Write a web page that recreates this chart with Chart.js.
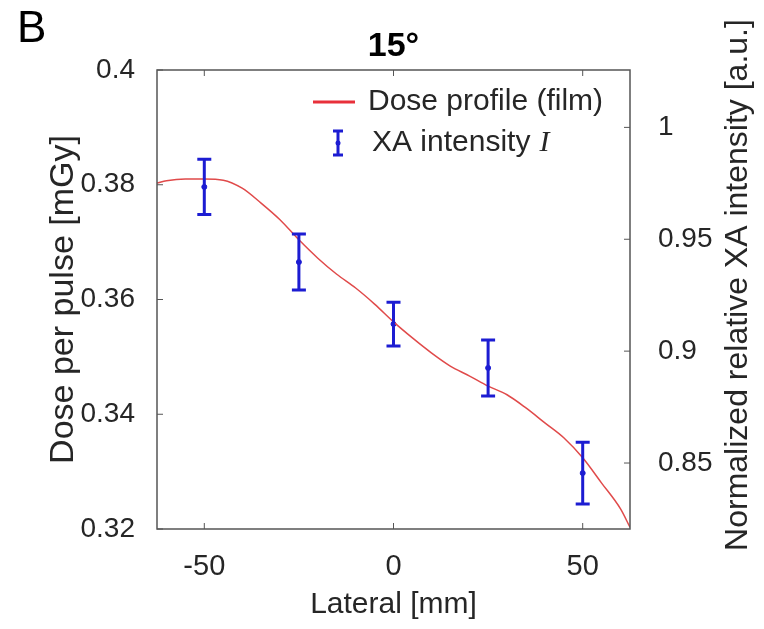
<!DOCTYPE html>
<html>
<head>
<meta charset="utf-8">
<script src="https://cdn.jsdelivr.net/npm/chart.js@4.4.1/dist/chart.umd.min.js"></script>
<style>
  html, body { margin: 0; padding: 0; background: #fff; }
</style>
</head>
<body>
<canvas id="chart" width="764" height="629"></canvas>
<script>
// film dose profile (left axis, mGy)
const lateralMm = [-62.5, -60, -55, -50, -45, -40, -35, -30, -25, -20, -15, -10, -5, 0,
                   5, 10, 15, 20, 25, 30, 35, 40, 45, 50, 55, 60, 62.5];
const doseFilm = [0.3803, 0.3807, 0.3810, 0.3810, 0.3808, 0.3794, 0.3768, 0.3739, 0.3704,
                  0.3672, 0.3644, 0.3620, 0.3592, 0.3561, 0.3533, 0.3507, 0.3484, 0.3467,
                  0.3449, 0.3434, 0.3411, 0.3385, 0.3359, 0.3324, 0.3280, 0.3235, 0.3203];

// XA intensity with error bars (right axis)
const xaLateral = [-50, -25, 0, 25, 50];
const xaIntensity = [0.9734, 0.9398, 0.9121, 0.8925, 0.8455];
const xaError = [0.0123, 0.0125, 0.0098, 0.0125, 0.0138];

const xTicks = [-50, 0, 50];
const doseTicks = [0.32, 0.34, 0.36, 0.38, 0.4];
const xaTicks = [0.85, 0.9, 0.95, 1];
const doseRange = [0.32, 0.4];
const lateralRange = [-62.5, 62.5];
const doseToXa = 0.39;   // right axis = dose / 0.39

const FONT = "'Liberation Sans', Arial, sans-serif";
const TEXT = '#262626';
const AXIS = '#555555';
const BLUE = '#1c1cd2';

// box and inward tick marks, matlab style
const framePlugin = {
    id: 'frame',
    afterDatasetsDraw(chart) {
        const {ctx, chartArea: a, scales} = chart;
        ctx.save();
        ctx.strokeStyle = AXIS;
        ctx.lineWidth = 1.5;
        ctx.strokeRect(a.left, a.top, a.right - a.left, a.bottom - a.top);
        ctx.lineWidth = 1;
        ctx.beginPath();
        scales.x.ticks.forEach(t => {
            const px = scales.x.getPixelForValue(t.value);
            ctx.moveTo(px, a.bottom); ctx.lineTo(px, a.bottom - 6);
            ctx.moveTo(px, a.top); ctx.lineTo(px, a.top + 6);
        });
        scales.y.ticks.forEach(t => {
            const py = scales.y.getPixelForValue(t.value);
            ctx.moveTo(a.left, py); ctx.lineTo(a.left + 6, py);
        });
        scales.y1.ticks.forEach(t => {
            const py = scales.y1.getPixelForValue(t.value);
            ctx.moveTo(a.right, py); ctx.lineTo(a.right - 6, py);
        });
        ctx.stroke();
        ctx.restore();
    }
};

const errorBarPlugin = {
    id: 'errorBars',
    afterDatasetsDraw(chart) {
        const {ctx, scales} = chart;
        ctx.save();
        ctx.strokeStyle = BLUE;
        ctx.lineWidth = 3;
        xaLateral.forEach((x, i) => {
            const px = scales.x.getPixelForValue(x);
            const top = scales.y1.getPixelForValue(xaIntensity[i] + xaError[i]);
            const bot = scales.y1.getPixelForValue(xaIntensity[i] - xaError[i]);
            ctx.beginPath();
            ctx.moveTo(px, top); ctx.lineTo(px, bot);
            ctx.moveTo(px - 7, top); ctx.lineTo(px + 7, top);
            ctx.moveTo(px - 7, bot); ctx.lineTo(px + 7, bot);
            ctx.stroke();
        });
        ctx.restore();
    }
};

// panel letter, title, legend and right axis title
const labelsPlugin = {
    id: 'labels',
    afterDraw(chart) {
        const {ctx, chartArea: a} = chart;
        ctx.save();
        ctx.fillStyle = '#000';
        ctx.textBaseline = 'middle';
        ctx.textAlign = 'left';
        ctx.font = "44px " + FONT;
        ctx.fillText('B', 17, 30);
        ctx.textAlign = 'center';
        ctx.font = "bold 34px " + FONT;
        ctx.fillText('15°', (a.left + a.right) / 2, 47);

        // legend
        ctx.strokeStyle = '#e8303a';
        ctx.lineWidth = 3;
        ctx.beginPath();
        ctx.moveTo(313, 102); ctx.lineTo(355, 102);
        ctx.stroke();
        ctx.strokeStyle = BLUE;
        ctx.beginPath();
        ctx.moveTo(338, 131); ctx.lineTo(338, 155);
        ctx.moveTo(333, 131); ctx.lineTo(343, 131);
        ctx.moveTo(333, 155); ctx.lineTo(343, 155);
        ctx.stroke();
        ctx.fillStyle = BLUE;
        ctx.beginPath();
        ctx.arc(338, 143, 2.5, 0, Math.PI * 2);
        ctx.fill();
        ctx.fillStyle = TEXT;
        ctx.textAlign = 'left';
        ctx.font = '30px ' + FONT;
        ctx.fillText('Dose profile (film)', 368, 102);
        ctx.fillText('XA intensity', 372, 143);
        const w = ctx.measureText('XA intensity').width;
        ctx.font = "italic 30px 'Liberation Serif', serif";
        ctx.fillText('I', 372 + w + 9, 143);

        // right axis title, reads bottom to top
        ctx.font = '32px ' + FONT;
        ctx.textAlign = 'center';
        ctx.translate(738, 285);
        ctx.rotate(-Math.PI / 2);
        ctx.fillText('Normalized relative XA intensity [a.u.]', 0, 0);
        ctx.restore();
    }
};

new Chart(document.getElementById('chart'), {
    type: 'line',
    data: {
        datasets: [
            {
                label: 'Dose profile (film)',
                data: lateralMm.map((x, i) => ({x: x, y: doseFilm[i]})),
                yAxisID: 'y',
                borderColor: '#e04a4a',
                borderWidth: 1.5,
                pointRadius: 0,
                cubicInterpolationMode: 'monotone',
                fill: false
            },
            {
                label: 'XA intensity I',
                data: xaLateral.map((x, i) => ({x: x, y: xaIntensity[i]})),
                yAxisID: 'y1',
                showLine: false,
                pointRadius: 2.5,
                pointBackgroundColor: BLUE,
                pointBorderColor: BLUE
            }
        ]
    },
    options: {
        responsive: false,
        animation: false,
        devicePixelRatio: 1,
        layout: {padding: {top: 70, left: 0, right: 0, bottom: 0}},
        plugins: {
            legend: {display: false},
            tooltip: {enabled: false},
            title: {display: false}
        },
        scales: {
            x: {
                type: 'linear',
                position: 'bottom',
                min: lateralRange[0],
                max: lateralRange[1],
                afterBuildTicks: s => { s.ticks = xTicks.map(v => ({value: v})); },
                afterFit: s => { s.height = 100; },
                grid: {display: false},
                border: {display: false},
                ticks: {color: TEXT, padding: 13, font: {family: FONT, size: 29}},
                title: {display: true, text: 'Lateral [mm]', color: TEXT,
                        padding: {top: 0, bottom: 6}, font: {family: FONT, size: 30}}
            },
            y: {
                type: 'linear',
                position: 'left',
                min: doseRange[0],
                max: doseRange[1],
                afterBuildTicks: s => { s.ticks = doseTicks.map(v => ({value: v})); },
                afterFit: s => { s.width = 157; },
                grid: {display: false},
                border: {display: false},
                ticks: {color: TEXT, padding: 14, font: {family: FONT, size: 28},
                        callback: v => String(+v.toFixed(2))},
                title: {display: true, text: 'Dose per pulse [mGy]', color: TEXT,
                        padding: {top: 43, bottom: 0}, font: {family: FONT, size: 34}}
            },
            y1: {
                type: 'linear',
                position: 'right',
                min: doseRange[0] / doseToXa,
                max: doseRange[1] / doseToXa,
                afterBuildTicks: s => { s.ticks = xaTicks.map(v => ({value: v})); },
                afterFit: s => { s.width = 134; },
                grid: {display: false},
                border: {display: false},
                ticks: {color: TEXT, padding: 20, font: {family: FONT, size: 28},
                        callback: v => String(+v.toFixed(2))}
            }
        }
    },
    plugins: [framePlugin, errorBarPlugin, labelsPlugin]
});
</script>
</body>
</html>
